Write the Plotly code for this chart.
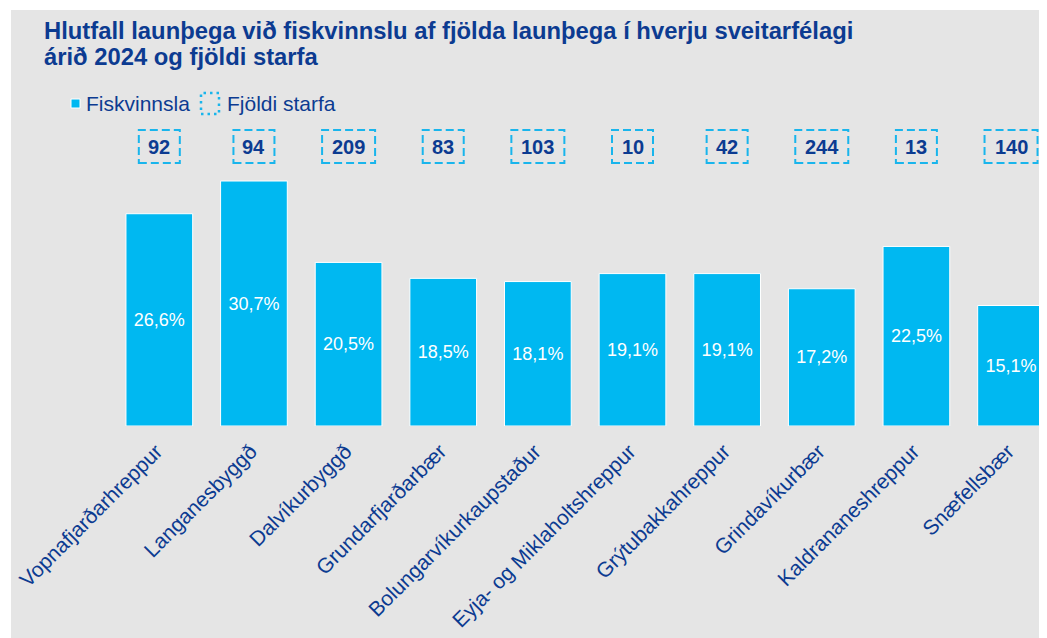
import plotly.graph_objects as go

# ---- data ----
categories = ["Vopnafjarðarhreppur", "Langanesbyggð", "Dalvíkurbyggð", "Grundarfjarðarbær",
              "Bolungarvíkurkaupstaður", "Eyja- og Miklaholtshreppur", "Grýtubakkahreppur",
              "Grindavíkurbær", "Kaldrananeshreppur", "Snæfellsbær"]
share_pct = [26.6, 30.7, 20.5, 18.5, 18.1, 19.1, 19.1, 17.2, 22.5, 15.1]
jobs = [92, 94, 209, 83, 103, 10, 42, 244, 13, 140]
title_lines = ["Hlutfall launþega við fiskvinnslu af fjölda launþega í hverju sveitarfélagi",
               "árið 2024 og fjöldi starfa"]
legend_names = ["Fiskvinnsla", "Fjöldi starfa"]

# ---- style ----
OFF = 8  # page body margin
W, H = 1039, 630
ML, MR, MT, MB = 104, 0, 112, 212
PW, PH = W - ML - MR, H - MT - MB
DARK = "#0c3b91"
BAR = "#00b8f1"
BOXC = "#19b5ec"
BG = "#e5e5e5"
FONT = "Liberation Sans, Arial, sans-serif"


def px(s):
    return (s - OFF - ML) / PW


def py(s):
    return (H - MB - (s - OFF)) / PH


labels = [f"{v:.1f}".replace(".", ",") + "%" for v in share_pct]

fig = go.Figure()
fig.add_trace(go.Bar(
    x=list(range(len(categories))), y=share_pct, text=labels,
    textposition="inside", insidetextanchor="middle",
    textfont=dict(color="white", size=18, family=FONT),
    constraintext="none", textangle=0,
    marker=dict(color=BAR, line=dict(color="white", width=1)),
    width=0.705, showlegend=False, hoverinfo="skip",
))

shapes = [
    dict(type="rect", xref="paper", yref="paper", x0=px(11), x1=px(1047 + OFF), y0=py(638 + OFF), y1=py(10),
         fillcolor=BG, line=dict(width=0), layer="below"),
    # legend icons
    dict(type="rect", xref="paper", yref="paper", x0=px(71), x1=px(80), y0=py(108), y1=py(99),
         fillcolor=BAR, line=dict(color="white", width=1)),
    dict(type="rect", xref="paper", yref="paper", x0=px(201), x1=px(219), y0=py(114), y1=py(93),
         fillcolor="rgba(0,0,0,0)", line=dict(color=BOXC, width=2.5, dash="2.5px,4px")),
]
annotations = [
    dict(text=f"<b>{title_lines[0]}</b>", xref="paper", yref="paper", x=px(42), y=py(31),
         xanchor="left", yanchor="middle", showarrow=False, font=dict(size=23.8, color=DARK, family=FONT)),
    dict(text=f"<b>{title_lines[1]}</b>", xref="paper", yref="paper", x=px(42), y=py(56),
         xanchor="left", yanchor="middle", showarrow=False, font=dict(size=23.8, color=DARK, family=FONT)),
    dict(text=legend_names[0], xref="paper", yref="paper", x=px(84), y=py(103),
         xanchor="left", yanchor="middle", showarrow=False, font=dict(size=21, color=DARK, family=FONT)),
    dict(text=legend_names[1], xref="paper", yref="paper", x=px(225), y=py(103),
         xanchor="left", yanchor="middle", showarrow=False, font=dict(size=21, color=DARK, family=FONT)),
]
for i, n in enumerate(jobs):
    w = 41 if n < 100 else 53
    shapes.append(dict(type="rect", xref="x", yref="paper", xsizemode="pixel", xanchor=i,
                       x0=-w / 2, x1=w / 2, y0=py(163), y1=py(130),
                       line=dict(color=BOXC, width=2, dash="8px,4px"), fillcolor="rgba(0,0,0,0)"))
    annotations.append(dict(text=f"<b>{n}</b>", xref="x", yref="paper", x=i, y=py(146.5),
                            xanchor="center", yanchor="middle", showarrow=False,
                            font=dict(size=20, color=DARK, family=FONT)))

fig.update_layout(
    width=W, height=H, margin=dict(l=ML, r=MR, t=MT, b=MB, autoexpand=False),
    paper_bgcolor="white", plot_bgcolor="rgba(0,0,0,0)",
    shapes=shapes, annotations=annotations, showlegend=False,
    font=dict(family=FONT, color=DARK),
    xaxis=dict(range=[-0.5, 9.38], tickmode="array", tickvals=list(range(len(categories))),
               ticktext=categories, tickangle=-45, showgrid=False, zeroline=False, showline=False,
               ticks="", ticklabelstandoff=8, ticklabelshift=-3,
               tickfont=dict(size=21, color=DARK, family=FONT)),
    yaxis=dict(range=[0, PH / 7.98], visible=False, showgrid=False, zeroline=False),
)

fig.write_html("out.html")
